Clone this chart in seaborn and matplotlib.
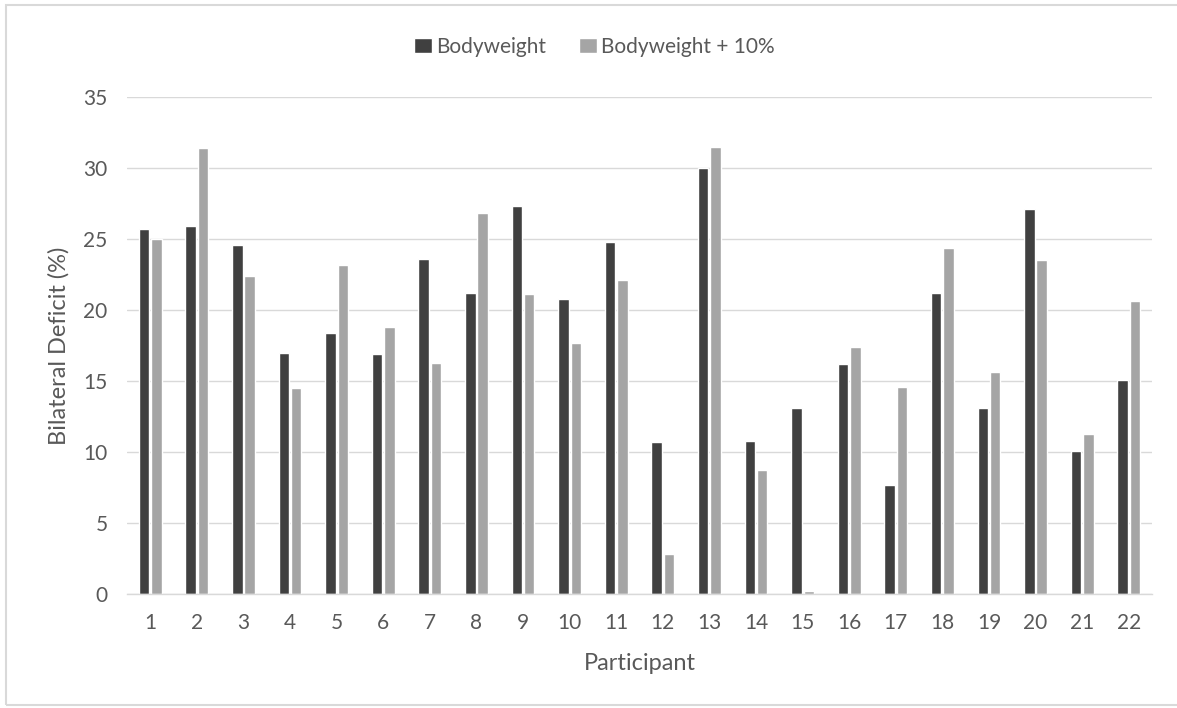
import pandas as pd
import matplotlib.pyplot as plt
import seaborn as sns
from matplotlib.patches import Rectangle
from matplotlib.ticker import FixedLocator

# values
participants = [str(i) for i in range(1, 23)]
bodyweight = [25.7, 25.9, 24.6, 17.0, 18.4, 16.9, 23.6, 21.2, 27.3, 20.8, 24.8,
              10.7, 30.0, 10.8, 13.1, 16.2, 7.7, 21.2, 13.1, 27.1, 10.1, 15.1]
bodyweight_10 = [25.0, 31.4, 22.4, 14.5, 23.2, 18.8, 16.3, 26.8, 21.1, 17.7, 22.1,
                 2.8, 31.5, 8.7, 0.2, 17.4, 14.6, 24.4, 15.6, 23.5, 11.3, 20.6]
series = ['Bodyweight', 'Bodyweight + 10%']

data = pd.DataFrame({
    'Participant': participants * 2,
    'value': bodyweight + bodyweight_10,
    'series': [series[0]] * 22 + [series[1]] * 22,
})

sns.set_style('white')
plt.rcParams['font.family'] = ['Lato', 'DejaVu Sans']
txt = '#595959'
grid = '#D9D9D9'

fig = plt.figure(figsize=(11.77, 7.08), dpi=100)
ax = fig.add_axes([0.1079, 0.161, 0.8709, 0.702])

sns.barplot(data=data, x='Participant', y='value', hue='series',
            palette=['#404040', '#A5A5A5'], width=0.53, gap=0.15,
            saturation=1, ax=ax, errorbar=None)

ax.set_ylim(0, 35)
ax.set_xlim(-0.5, 21.5)
ax.set_yticks(range(0, 36, 5))
ax.yaxis.grid(True, color=grid, linewidth=1)
ax.set_axisbelow(True)
for s in ['top', 'right', 'left']:
    ax.spines[s].set_visible(False)
ax.spines['bottom'].set_color(grid)
ax.spines['bottom'].set_linewidth(1)

ax.tick_params(axis='y', length=0, labelsize=15, labelcolor=txt, pad=14)
ax.tick_params(axis='x', which='major', length=0, labelsize=15, labelcolor=txt, pad=14)
ax.xaxis.set_minor_locator(FixedLocator([i - 0.5 for i in range(23)]))
ax.tick_params(axis='x', which='minor', length=5, color=grid, width=1)

ax.set_xlabel('Participant', fontsize=17, color=txt, labelpad=14)
ax.set_ylabel('Bilateral Deficit (%)', fontsize=17, color=txt, labelpad=10)

leg = ax.legend(loc='center', bbox_to_anchor=(0.505, 0.934),
                bbox_transform=fig.transFigure, ncol=2, frameon=False,
                fontsize=15, handlelength=0.85, handleheight=0.75,
                handletextpad=0.2, columnspacing=1.6)
for t in leg.get_texts():
    t.set_color(txt)

# chart border
fig.patches.append(Rectangle((0.005, 0.004), 1.2, 0.989, transform=fig.transFigure,
                             fill=False, edgecolor='#D9D9D9', linewidth=1.5))

fig.savefig('out.png', dpi=100)
